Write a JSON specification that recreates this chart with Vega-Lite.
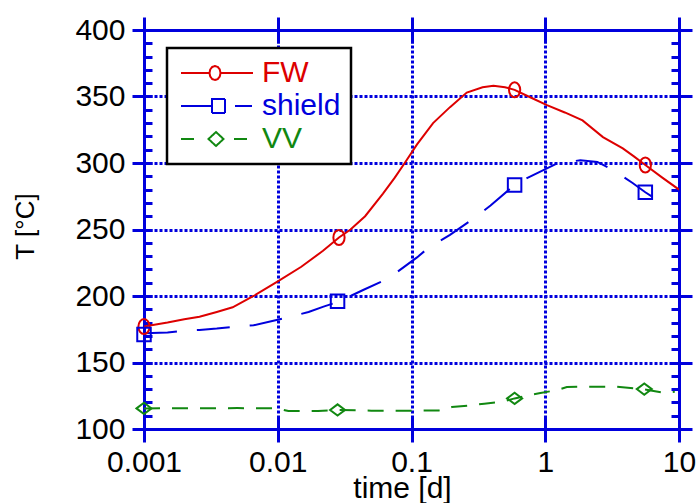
{
  "$schema": "https://vega.github.io/schema/vega-lite/v6.json",
  "autosize": {"type": "none"},
  "padding": {"left": 144, "top": 30, "right": 21, "bottom": 74},
  "width": 535,
  "height": 399,
  "background": "white",
  "datasets": {
    "lines": [
      {"t": 0.001, "T": 177, "s": "FW"},
      {"t": 0.0015, "T": 180, "s": "FW"},
      {"t": 0.002, "T": 182.5, "s": "FW"},
      {"t": 0.0026, "T": 184.4, "s": "FW"},
      {"t": 0.0035, "T": 188, "s": "FW"},
      {"t": 0.0046, "T": 191.5, "s": "FW"},
      {"t": 0.0066, "T": 200, "s": "FW"},
      {"t": 0.0098, "T": 210.5, "s": "FW"},
      {"t": 0.015, "T": 222, "s": "FW"},
      {"t": 0.0218, "T": 234, "s": "FW"},
      {"t": 0.0287, "T": 244, "s": "FW"},
      {"t": 0.035, "T": 250, "s": "FW"},
      {"t": 0.045, "T": 260, "s": "FW"},
      {"t": 0.0612, "T": 277, "s": "FW"},
      {"t": 0.075, "T": 289, "s": "FW"},
      {"t": 0.089, "T": 300, "s": "FW"},
      {"t": 0.11, "T": 314, "s": "FW"},
      {"t": 0.145, "T": 330, "s": "FW"},
      {"t": 0.194, "T": 342, "s": "FW"},
      {"t": 0.259, "T": 353, "s": "FW"},
      {"t": 0.34, "T": 357, "s": "FW"},
      {"t": 0.41, "T": 358, "s": "FW"},
      {"t": 0.5, "T": 357, "s": "FW"},
      {"t": 0.59, "T": 355, "s": "FW"},
      {"t": 0.75, "T": 350, "s": "FW"},
      {"t": 1.03, "T": 343.5, "s": "FW"},
      {"t": 1.4, "T": 338, "s": "FW"},
      {"t": 1.9, "T": 332, "s": "FW"},
      {"t": 2.7, "T": 319.5, "s": "FW"},
      {"t": 3.8, "T": 311, "s": "FW"},
      {"t": 4.6, "T": 305, "s": "FW"},
      {"t": 5.6, "T": 298.5, "s": "FW"},
      {"t": 7.5, "T": 289, "s": "FW"},
      {"t": 10, "T": 280, "s": "FW"},
      {"t": 0.001, "T": 172, "s": "shield"},
      {"t": 0.0015, "T": 172.5, "s": "shield"},
      {"t": 0.002, "T": 174, "s": "shield"},
      {"t": 0.0026, "T": 174.5, "s": "shield"},
      {"t": 0.0035, "T": 175.5, "s": "shield"},
      {"t": 0.0046, "T": 176.7, "s": "shield"},
      {"t": 0.0066, "T": 178, "s": "shield"},
      {"t": 0.0098, "T": 182, "s": "shield"},
      {"t": 0.012, "T": 184, "s": "shield"},
      {"t": 0.017, "T": 188, "s": "shield"},
      {"t": 0.022, "T": 192, "s": "shield"},
      {"t": 0.028, "T": 195.5, "s": "shield"},
      {"t": 0.035, "T": 200, "s": "shield"},
      {"t": 0.0435, "T": 204.5, "s": "shield"},
      {"t": 0.06, "T": 211, "s": "shield"},
      {"t": 0.078, "T": 218, "s": "shield"},
      {"t": 0.11, "T": 229, "s": "shield"},
      {"t": 0.133, "T": 236, "s": "shield"},
      {"t": 0.194, "T": 246, "s": "shield"},
      {"t": 0.28, "T": 257, "s": "shield"},
      {"t": 0.39, "T": 268, "s": "shield"},
      {"t": 0.59, "T": 283.5, "s": "shield"},
      {"t": 0.73, "T": 288.7, "s": "shield"},
      {"t": 1.03, "T": 296, "s": "shield"},
      {"t": 1.25, "T": 300, "s": "shield"},
      {"t": 1.83, "T": 302, "s": "shield"},
      {"t": 2.45, "T": 300.8, "s": "shield"},
      {"t": 3.3, "T": 294, "s": "shield"},
      {"t": 4.5, "T": 285, "s": "shield"},
      {"t": 5.6, "T": 278, "s": "shield"},
      {"t": 8.3, "T": 267, "s": "shield"},
      {"t": 0.001, "T": 115.5, "s": "VV"},
      {"t": 0.005, "T": 115.7, "s": "VV"},
      {"t": 0.01, "T": 115.5, "s": "VV"},
      {"t": 0.012, "T": 113.5, "s": "VV"},
      {"t": 0.02, "T": 113.5, "s": "VV"},
      {"t": 0.028, "T": 114.3, "s": "VV"},
      {"t": 0.05, "T": 113.8, "s": "VV"},
      {"t": 0.1, "T": 113.8, "s": "VV"},
      {"t": 0.16, "T": 114, "s": "VV"},
      {"t": 0.2, "T": 116.5, "s": "VV"},
      {"t": 0.29, "T": 118, "s": "VV"},
      {"t": 0.35, "T": 119, "s": "VV"},
      {"t": 0.48, "T": 120.5, "s": "VV"},
      {"t": 0.59, "T": 123, "s": "VV"},
      {"t": 0.77, "T": 125.6, "s": "VV"},
      {"t": 0.92, "T": 127, "s": "VV"},
      {"t": 1.23, "T": 129.3, "s": "VV"},
      {"t": 1.45, "T": 131.5, "s": "VV"},
      {"t": 1.83, "T": 131.8, "s": "VV"},
      {"t": 3.45, "T": 131.8, "s": "VV"},
      {"t": 5.4, "T": 130, "s": "VV"},
      {"t": 7.6, "T": 127.3, "s": "VV"},
      {"t": 9.3, "T": 128, "s": "VV"}
    ],
    "marks": [
      {"t": 0.001, "T": 177, "s": "FW"},
      {"t": 0.0287, "T": 244, "s": "FW"},
      {"t": 0.59, "T": 355, "s": "FW"},
      {"t": 5.6, "T": 298.5, "s": "FW"},
      {"t": 0.001, "T": 171, "s": "shield"},
      {"t": 0.028, "T": 196, "s": "shield"},
      {"t": 0.59, "T": 283.5, "s": "shield"},
      {"t": 5.6, "T": 278, "s": "shield"},
      {"t": 0.001, "T": 115.5, "s": "VV"},
      {"t": 0.028, "T": 114.3, "s": "VV"},
      {"t": 0.59, "T": 123, "s": "VV"},
      {"t": 5.5, "T": 130, "s": "VV"}
    ]
  },
  "config": {
    "view": {"stroke": null},
    "axis": {
      "domainColor": "#0000dd",
      "domainWidth": 3,
      "tickColor": "#0000dd",
      "tickWidth": 3,
      "gridColor": "#0000dd",
      "gridDash": [3, 2],
      "gridWidth": 3,
      "gridOpacity": 1,
      "labelFont": "Liberation Sans",
      "labelFontSize": 30,
      "labelColor": "black",
      "labelFlush": false,
      "labelOverlap": false,
      "titleFont": "Liberation Sans",
      "titleFontWeight": "normal",
      "titleColor": "black"
    },
    "legend": {
      "orient": "none", "legendX": 23, "legendY": 18, "title": null,
      "padding": 10, "rowPadding": 3,
      "labelFont": "Liberation Sans", "labelFontSize": 30, "labelOffset": 53,
      "labelColor": {"expr": "scale('color', datum.value)"},
      "symbolSize": 400, "symbolStrokeWidth": 2, "symbolOffset": 2,
      "symbolOpacity": 1, "symbolDash": [1, 0], "symbolFillColor": "transparent",
      "strokeColor": "black", "strokeWidth": 2.5, "fillColor": "white"
    }
  },
  "resolve": {"axis": {"x": "independent", "y": "independent"}},
  "layer": [
    {
      "data": {"name": "lines"},
      "transform": [{"filter": "datum.s === 'FW'"}],
      "mark": {"type": "line", "strokeWidth": 2, "clip": true},
      "encoding": {
        "x": {
          "field": "t", "type": "quantitative",
          "scale": {"type": "log", "domain": [0.001, 10], "nice": false},
          "axis": {
            "orient": "bottom", "values": [0.001, 0.01, 0.1, 1, 10], "format": "~g",
            "tickSize": 13, "labelPadding": 5, "grid": true,
            "title": "time [d]", "titleFontSize": 30, "titleX": 258, "titleY": 68,
            "titleBaseline": "alphabetic", "titleAlign": "center", "titleAnchor": null
          }
        },
        "y": {
          "field": "T", "type": "quantitative",
          "scale": {"domain": [100, 400], "nice": false, "zero": false},
          "axis": {
            "orient": "left", "values": [100, 150, 200, 250, 300, 350, 400],
            "tickSize": 12, "labelPadding": 7, "grid": true,
            "title": "T [°C]", "titleFontSize": 26, "titleAngle": -90,
            "titleX": -119, "titleY": 196, "titleBaseline": "middle", "titleAlign": "center"
          }
        },
        "color": {
          "field": "s", "type": "nominal",
          "scale": {"domain": ["FW", "shield", "VV"], "range": ["#dd0000", "#0000dd", "#118811"]}
        }
      }
    },
    {
      "data": {"name": "lines"},
      "transform": [{"filter": "datum.s === 'shield'"}],
      "mark": {"type": "line", "strokeWidth": 2, "clip": true, "strokeDash": [33, 20]},
      "encoding": {
        "x": {"field": "t", "type": "quantitative", "axis": null},
        "y": {"field": "T", "type": "quantitative", "axis": null},
        "color": {"field": "s", "type": "nominal"}
      }
    },
    {
      "data": {"name": "lines"},
      "transform": [{"filter": "datum.s === 'VV'"}],
      "mark": {"type": "line", "strokeWidth": 2, "clip": true, "strokeDash": [16, 12]},
      "encoding": {
        "x": {"field": "t", "type": "quantitative", "axis": null},
        "y": {"field": "T", "type": "quantitative", "axis": null},
        "color": {"field": "s", "type": "nominal"}
      }
    },
    {
      "data": {"name": "marks"},
      "transform": [{"filter": "datum.s === 'FW'"}],
      "mark": {"type": "point", "filled": false, "strokeWidth": 2, "size": 225, "opacity": 1, "shape": "M0.75,0A0.75,1 0 1,1 -0.75,0A0.75,1 0 1,1 0.75,0"},
      "encoding": {
        "x": {
          "field": "t", "type": "quantitative",
          "axis": {"orient": "top", "values": [0.001, 0.01, 0.1, 1, 10], "labels": false, "tickSize": 13, "grid": false, "title": null}
        },
        "y": {
          "field": "T", "type": "quantitative",
          "axis": {"orient": "right", "values": [100, 150, 200, 250, 300, 350, 400], "labels": false, "tickSize": 13, "grid": false, "title": null}
        },
        "color": {"field": "s", "type": "nominal"}
      }
    },
    {
      "data": {"name": "marks"},
      "transform": [{"filter": "datum.s === 'shield'"}],
      "mark": {"type": "point", "filled": false, "strokeWidth": 2, "size": 225, "opacity": 1, "shape": "M-0.9,-0.9L0.9,-0.9L0.9,0.9L-0.9,0.9Z"},
      "encoding": {
        "x": {"field": "t", "type": "quantitative", "axis": null},
        "y": {"field": "T", "type": "quantitative", "axis": null},
        "color": {"field": "s", "type": "nominal"}
      }
    },
    {
      "data": {"name": "marks"},
      "transform": [{"filter": "datum.s === 'VV'"}],
      "mark": {"type": "point", "filled": false, "strokeWidth": 2, "size": 225, "opacity": 1, "shape": "M-1,0L0,-0.75L1,0L0,0.75Z"},
      "encoding": {
        "x": {"field": "t", "type": "quantitative", "axis": null},
        "y": {"field": "T", "type": "quantitative", "axis": null},
        "color": {"field": "s", "type": "nominal"}
      }
    },
    {
      "data": {"name": "marks"},
      "mark": {"type": "point", "filled": false, "opacity": 0},
      "encoding": {
        "x": {
          "field": "t", "type": "quantitative",
          "axis": {"orient": "bottom", "values": [0.001, 0.01, 0.1, 1, 10], "labels": false, "domain": false, "tickSize": -13, "grid": false, "title": null}
        },
        "y": {
          "field": "T", "type": "quantitative",
          "axis": {"orient": "left", "values": [100, 110, 120, 130, 140, 150, 160, 170, 180, 190, 200, 210, 220, 230, 240, 250, 260, 270, 280, 290, 300, 310, 320, 330, 340, 350, 360, 370, 380, 390, 400], "labels": false, "domain": false, "tickSize": -8, "grid": false, "title": null}
        },
        "color": {"field": "s", "type": "nominal"},
        "shape": {
          "field": "s", "type": "nominal",
          "scale": {"domain": ["FW", "shield", "VV"], "range": [
            "M-1.3,0L1.55,0M2.65,0L5.9,0M2.65,0L2.576,0.35L2.375,0.606L2.1,0.7L1.825,0.606L1.624,0.35L1.55,0L1.624,-0.35L1.825,-0.606L2.1,-0.7L2.375,-0.606L2.576,-0.35Z",
            "M-1.3,0L1.8,0M1.8,-0.7L3.1,-0.7L3.1,0.7L1.8,0.7ZM4.1,0L5.8,0",
            "M-1.3,0L0,0M1.45,0L2.2,-0.7L2.95,0L2.2,0.7ZM4,0L5.3,0"
          ]}
        }
      }
    },
    {
      "data": {"name": "marks"},
      "mark": {"type": "point", "opacity": 0},
      "encoding": {
        "x": {
          "field": "t", "type": "quantitative",
          "axis": {"orient": "top", "values": [0.001, 0.01, 0.1, 1, 10], "labels": false, "domain": false, "tickSize": -13, "grid": false, "title": null}
        },
        "y": {
          "field": "T", "type": "quantitative",
          "axis": {"orient": "right", "values": [100, 110, 120, 130, 140, 150, 160, 170, 180, 190, 200, 210, 220, 230, 240, 250, 260, 270, 280, 290, 300, 310, 320, 330, 340, 350, 360, 370, 380, 390, 400], "labels": false, "domain": false, "tickSize": -8, "grid": false, "title": null}
        }
      }
    }
  ]
}
